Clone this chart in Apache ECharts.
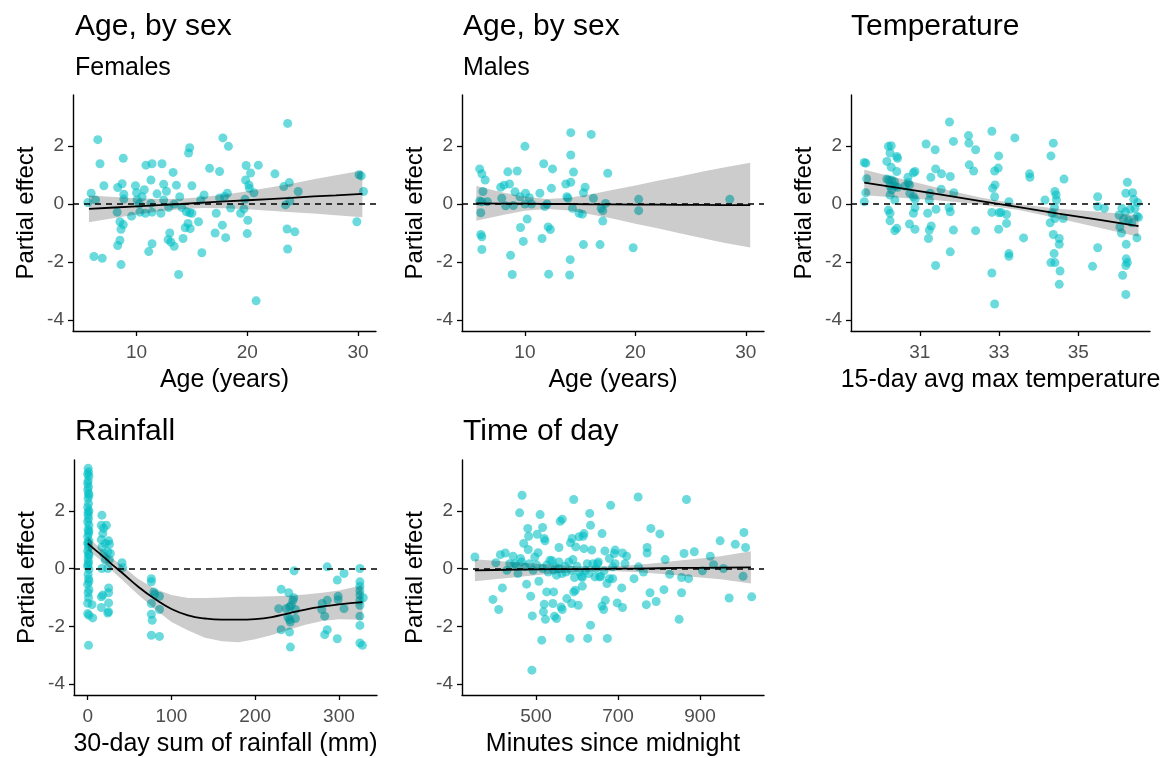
<!DOCTYPE html>
<html>
<head>
<meta charset="utf-8">
<script src="https://cdn.jsdelivr.net/npm/echarts@6/dist/echarts.min.js"></script>
<style>
html,body{margin:0;padding:0;background:#fff;}
#main{width:1171px;height:758px;}
</style>
</head>
<body>
<div id="main"></div>
<script>
// partial residuals [x, effect]
var femalePts = [[5.6,0.05],[5.9,0.37],[6.5,2.22],[6.15,-1.81],[6.3,0.14],[6.7,1.39],[6.9,-1.87],[7.05,0.63],
  [8.3,0.57],[8.25,-0.28],[8.3,-1.43],[8.5,-1.25],[8.5,-0.61],[8.6,-0.87],[8.6,-2.09],[8.7,0.70],[8.8,1.58],[8.85,0.34],[8.8,-0.71],[8.85,0.17],
  [9.55,-0.42],[9.9,0.63],[10.0,0.39],[10.05,0.14],[10.25,0.0],[10.3,-0.28],[10.5,0.25],[10.7,0.49],[10.8,-0.32],[10.85,1.34],
  [11.1,-1.64],[11.3,0.83],[11.4,-1.37],[11.4,1.39],[11.3,0.02],[11.85,0.35],[11.4,-0.28],
  [12.3,1.39],[12.2,-0.32],[12.45,0.68],[12.45,0.14],[12.7,0.44],[12.85,-1.23],[13.0,-1.0],[12.9,-0.12],[13.1,-1.31],[13.3,1.09],[13.4,0.0],[13.4,-1.46],[13.6,0.65],[13.8,-2.43],[13.9,0.25],
  [14.1,-0.12],[14.2,-1.19],[14.4,-0.82],[14.5,-0.27],[14.65,-0.67],[14.7,1.76],[14.8,1.94],[14.8,-0.30],[14.85,-0.85],[15.0,0.63],[15.0,-0.32],
  [15.6,-0.61],[15.8,0.14],[15.9,-1.68],[16.1,0.31],[16.6,1.23],[17.1,-1.0],[17.2,-0.32],[17.5,1.12],[17.5,0.21],[17.75,-0.73],[17.8,2.28],[17.95,0.26],[18.05,-1.16],[18.2,0.37],[18.3,1.99],[18.5,-0.14],
  [19.4,-0.32],[19.7,-0.17],[19.8,0.16],[19.85,0.83],[19.9,1.33],[20.0,-1.02],[20.05,-0.56],[20.15,0.66],[20.3,1.07],[20.2,0.54],[20.6,0.39],[20.8,-3.34],[21.0,1.34],
  [22.5,1.04],[23.3,0.6],[23.45,-0.03],[23.65,2.78],[23.6,-0.86],[23.65,-1.55],[23.8,0.74],[23.85,0.10],[24.3,-0.96],[24.6,0.43],
  [29.9,-0.61],[30.1,1.01],[30.3,0.97],[30.5,0.43]];

var malePts = [[5.9,1.21],[6.1,1.04],[6.4,0.83],[6.2,0.43],[6.1,0.08],[6.0,-0.30],[5.9,0.10],[6.6,0.08],[6.0,-1.05],[6.1,-1.13],[6.1,-1.57],
  [7.8,0.58],[8.1,0.65],[7.9,0.2],[8.25,-0.06],[8.45,1.11],[8.6,0.69],[8.95,-0.05],[9.1,0.42],[9.3,1.14],[9.55,0.25],[9.6,-0.81],[9.85,-1.29],[10.0,1.99],[10.05,0.37],[10.2,-0.52],[10.0,0.0],[10.4,0.22],[10.6,0.0],[8.7,-1.77],[8.85,-2.43],
  [11.35,0.37],[11.55,-1.19],[11.7,1.39],[11.8,-0.09],[12.0,0.0],[12.1,-0.79],[12.3,-0.88],[12.4,0.54],[12.15,-2.42],[12.5,1.21],
  [13.7,0.69],[13.8,0.25],[13.9,0.2],[14.15,0.75],[14.15,1.69],[14.15,2.46],[14.3,-0.15],[14.4,1.10],[14.1,-1.92],[14.05,-2.45],
  [14.9,-0.32],[15.2,-0.35],[15.3,0.39],[15.45,0.58],[15.3,-1.40],[16.0,2.40],[16.2,0.2],[16.8,-1.40],[16.9,-0.15],[17.05,-0.23],[17.05,-0.59],[17.3,0.02],[17.5,1.06],
  [20.3,0.16],[20.3,-0.23],[19.8,-1.51],[28.55,0.16]];

var tempPts = [[29.6,1.43],[29.64,1.41],[29.66,0.87],[29.64,0.39],[29.6,0.08],
  [30.17,1.47],[30.21,1.99],[30.28,2.01],[30.25,1.76],[30.42,1.64],[30.44,1.58],[30.28,1.27],[30.42,1.12],[30.17,0.86],[30.22,0.83],[30.29,0.83],[30.36,0.77],[30.25,0.62],[30.37,0.62],[30.44,0.58],[30.29,0.49],[30.25,0.31],[30.37,0.14],[30.21,-0.21],[30.25,-0.32],[30.25,-0.58],[30.37,-0.92],[30.42,-0.84],
  [30.63,0.62],[30.7,0.92],[30.71,0.74],[30.74,0.66],[30.84,1.08],[30.88,1.12],[30.75,0.37],[30.84,0.25],[30.88,0.16],[30.88,-0.13],[30.84,-0.32],[30.74,-0.69],[30.88,-0.87],
  [31.16,2.07],[31.39,1.87],[31.4,1.21],[31.28,0.92],[31.2,-0.32],[31.26,0.37],[31.24,0.14],[31.29,-0.76],[31.24,-0.90],[31.22,-1.19],[31.41,-0.18],[31.4,-2.12],[31.55,1.04],[31.54,0.51],
  [31.75,2.83],[31.77,0.95],[31.74,-0.12],[31.77,-0.27],[31.85,2.16],[31.86,0.39],[31.85,-0.90],[31.77,-1.65],
  [32.23,2.36],[32.24,2.10],[32.41,1.87],[32.25,1.35],[32.36,1.14],[32.41,-0.92],
  [32.82,2.51],[32.89,1.14],[32.9,0.66],[32.84,0.54],[32.89,0.25],[32.82,-0.29],[32.82,-2.38],[32.89,-3.45],[32.99,1.66],[32.98,1.24],[33.0,-0.30],[32.99,-0.87],
  [33.4,2.28],[33.25,0.08],[33.19,-0.36],[33.19,-0.67],[33.05,-0.29],[33.25,-1.71],[33.25,-1.80],[33.62,-1.17],[33.77,1.04],[33.78,0.92],
  [34.16,0.14],[34.31,1.66],[34.37,2.10],[34.41,0.43],[34.44,0.31],[34.45,0.14],[34.4,-0.12],[34.34,-0.32],[34.29,-0.65],[34.41,-0.50],[34.62,-0.50],[34.64,0.86],[34.37,-1.05],[34.52,-1.19],[34.52,-1.39],[34.39,-1.71],[34.31,-2.02],[34.41,-2.02],[34.54,-2.31],[34.52,-2.77],
  [35.49,0.25],[35.49,-0.09],[35.66,-0.15],[35.49,-1.51],[35.36,-2.15],
  [36.24,0.75],[36.2,0.37],[36.37,0.39],[36.4,0.16],[36.31,-0.18],[36.19,-0.27],[36.1,-0.15],[36.03,-0.38],[36.14,-0.53],[36.05,-0.79],[36.09,-1.0],[36.43,-0.15],[36.48,-0.42],[36.5,0.05],[36.48,-1.17],[36.21,-1.39],[36.21,-1.89],[36.2,-2.12],[36.24,-2.02],[36.12,-2.46],[36.2,-3.12],[36.27,-0.55],[36.35,-0.65],[36.52,-0.46]];

var rainPts = [[0.5,3.47],[1,3.35],[0,3.27],[1.5,3.20],[0.5,3.04],[0,2.95],[1,2.83],[0,2.72],[1,2.6],[1.5,2.54],[0.5,2.43],[1,2.25],[0,2.12],[1.5,2.0],[0.5,1.95],[0.5,1.85],[1,1.73],[0,1.62],[1.5,1.50],[0.5,1.35],[1.5,1.3],[1,1.21],[0,1.10],[1.5,0.96],[0,0.9],[0.5,0.84],[1,0.73],[0,0.61],[1,0.5],[1.5,0.46],[0.5,0.35],[1,0.23],[0.5,0.15],[0,0.08],[1.5,-0.03],[0.5,-0.2],[1,-0.35],[1.5,-0.45],[0,-0.54],[1.5,-0.73],[0.5,-0.84],[1,-1.01],[0,-1.2],[0,-1.56],[1.5,-1.62],[1,-2.66],[5.2,-1.25],[6,-1.71],
  [17,1.85],[16.3,1.50],[22.3,1.50],[19,1.39],[18,1.21],[16.3,1.0],[25,0.96],[26,0.84],[21,0.87],[17,0.75],[24,0.58],[27,0.52],[19,0.52],[21,0.29],[17,0.0],[24,0.0],[26,0.31],[25,-0.67],[25,-0.84],[16.3,-0.98],[18,-0.92],[25,-1.19],[16.3,-1.35],[25,-1.50],[24,-1.54],[41,0.20],[41.8,0.03],
  [76,-0.35],[76,-0.46],[79,-0.81],[80,-0.89],[85.7,-0.96],[76,-1.21],[85.7,-1.42],[76,-1.58],[77,-1.79],[76,-2.31],[85.7,-2.35],
  [246.4,-0.08],[231,-0.72],[240,-0.84],[245,-1.10],[246,-1.01],[228,-1.39],[237,-1.39],[241,-1.33],[243,-1.27],[248,-1.42],[239,-1.68],[241,-1.77],[242,-1.85],[248,-1.73],[231,-2.12],[241,-2.20],[242,-2.72],
  [280,-1.21],[279.5,-1.42],[283,-1.65],[286,-1.10],[286,-2.12],[283,-2.29],[286,0.06],[298,-0.40],[299,-0.96],[299,-1.08],[306,-0.17],[306,-1.39],[298,-2.43],
  [325,0.0],[325,-0.46],[325,-0.61],[325,-0.77],[325,-0.92],[325,-1.10],[325,-1.27],[325,-1.65],[325,-1.97],[329,-1.01],[325,-2.58],[328,-2.66]];

var timePts = [[351,0.40],[395,-1.07],[409,-1.42],[418,-0.67],[413,0.48],[425,0.54],[402,0.20],[429,-0.06],[444,0.43],[448,0.17],[456,-0.17],[460,1.93],[466,2.54],[462,0.35],[470,0.87],[477,-0.54],[481,0.66],[480,1.39],[487,-0.96],[491,-1.64],[490,-3.52],[482,1.12],[484,0.17],[497,0.40],[505,0.55],[503,1.19],[507,-0.44],[510,1.87],[516,1.42],[520,1.04],[522,0.96],[520,-1.24],[518,-1.50],[514,-2.48],[523,-1.76],[526,-0.81],[530,-0.12],[534,0.29],[541,-1.21],[543,-0.81],[545,-1.65],[550,-1.73],[547,0.06],[550,-0.23],[556,0.23],[556,0.73],[559,1.64],[564,1.71],[561,-1.33],[564,-1.42],[571,0.08],[573,-0.12],[575,-1.04],[583,-2.42],[587,-1.21],[590,0.31],[592,2.39],[584,0.89],[588,1.04],[597,0.75],[592,-0.81],[596,-0.75],[603,-1.27],[600,0.08],[605,1.10],[615,1.12],[617,1.21],[611,-0.27],[613,-0.61],[617,0.69],[621,-0.06],[626,-2.42],[633,-1.96],[631,1.91],[633,1.50],[636,0.64],[639,0.17],[644,-0.29],[650,0.17],[655,-0.29],[661,1.21],[661,-1.30],[665,-1.42],[669,-1.10],[674,-2.42],[668,0.61],[673,-0.52],[679,0.35],[682,2.19],[687,-0.35],[691,0.52],
  [436,0.17],[452,0.08],[465,0.23],[473,0.06],[493,-0.06],[502,0.12],[516,0.0],[526,0.12],[539,0.27],[543,-0.06],[555,0.0],[563,-0.17],[580,0.23],[586,-0.06],[594,-0.31],[606,-0.12],[613,-0.31],[625,0.17],[629,-0.17],[646,0.0],[652,0.23],[658,-0.27],[666,-0.08],[679,-0.35],[687,0.06],[693,0.17],
  [693,0.64],[711,0.54],[721,0.43],[717,0.17],[698,-1.19],[711,-1.35],[709,-0.67],[739,-0.35],[749,2.48],[750,0.06],[762,-0.12],[771,0.73],[771,0.54],[769,-1.25],[778,-0.84],[780,1.39],[793,-1.14],[802,1.20],[812,-0.73],[815,0.31],[826,-0.20],[849,-1.76],[855,-0.84],[855,-0.31],[861,0.52],[867,2.39],[872,-0.35],[886,0.58],[906,-0.08],[925,0.43],[933,0.13],[949,0.96],[957,0.0],[971,-1.02],[986,0.84],[1005,-0.27],[1007,1.25],[1011,0.73],[1026,-0.98]];

// fitted smooths with confidence bands
var femaleFitX = [5.7, 8, 10, 12, 14, 16, 18, 20, 22, 24, 26, 28, 30.4];
var femaleFit  = [-0.17, -0.12, -0.08, -0.04, 0.0, 0.05, 0.09, 0.13, 0.17, 0.21, 0.26, 0.30, 0.35];
var femaleLo   = [-0.63, -0.48, -0.36, -0.25, -0.18, -0.14, -0.15, -0.18, -0.23, -0.28, -0.33, -0.39, -0.46];
var femaleHi   = [0.29, 0.24, 0.20, 0.17, 0.18, 0.24, 0.33, 0.44, 0.57, 0.70, 0.85, 0.99, 1.16];

var maleFitX = [5.6, 8, 10, 12, 14, 16, 18, 20, 22, 24, 26, 28, 30.4];
var maleFit  = [0.02, 0.01, 0.01, 0.0, 0.0, -0.01, -0.01, -0.02, -0.02, -0.03, -0.03, -0.04, -0.04];
var maleLo   = [-0.58, -0.38, -0.23, -0.17, -0.22, -0.36, -0.51, -0.68, -0.84, -1.01, -1.17, -1.34, -1.50];
var maleHi   = [0.62, 0.40, 0.25, 0.17, 0.22, 0.34, 0.49, 0.64, 0.80, 0.95, 1.11, 1.26, 1.42];

var tempFitX = [29.6, 30.5, 31.5, 32.5, 33.5, 34.5, 35.5, 36.52];
var tempFit  = [0.74, 0.55, 0.33, 0.11, -0.11, -0.33, -0.54, -0.76];
var tempLo   = [0.30, 0.22, 0.12, -0.01, -0.21, -0.50, -0.81, -1.13];
var tempHi   = [1.18, 0.88, 0.54, 0.23, -0.01, -0.16, -0.27, -0.39];

var rainFitX = [0, 10, 20, 30, 40, 60, 80, 100, 120, 140, 160, 180, 200, 220, 240, 260, 280, 300, 328];
var rainFit  = [0.87, 0.62, 0.38, 0.12, -0.12, -0.62, -1.05, -1.40, -1.62, -1.73, -1.77, -1.77, -1.75, -1.68, -1.55, -1.42, -1.32, -1.24, -1.16];
var rainLo   = [0.64, 0.42, 0.18, -0.10, -0.36, -0.90, -1.40, -1.85, -2.15, -2.40, -2.52, -2.55, -2.45, -2.30, -2.12, -1.95, -1.82, -1.76, -1.77];
var rainHi   = [1.10, 0.83, 0.58, 0.34, 0.12, -0.35, -0.70, -0.92, -1.02, -1.02, -1.0, -0.98, -0.98, -0.96, -0.94, -0.90, -0.84, -0.76, -0.58];

var timeFitX = [351, 400, 450, 500, 550, 600, 650, 700, 750, 800, 850, 900, 950, 1024];
var timeFit  = [-0.06, -0.05, -0.04, -0.03, -0.02, -0.02, -0.01, 0.0, 0.0, 0.01, 0.02, 0.02, 0.03, 0.04];
var timeLo   = [-0.44, -0.37, -0.30, -0.23, -0.16, -0.12, -0.09, -0.09, -0.13, -0.18, -0.24, -0.31, -0.37, -0.52];
var timeHi   = [0.32, 0.27, 0.22, 0.17, 0.12, 0.08, 0.07, 0.09, 0.13, 0.20, 0.28, 0.35, 0.43, 0.60];

var yTicks = [-4, -2, 0, 2];

var chart = echarts.init(document.getElementById('main'));
var FONT = '"Liberation Sans", Arial, Helvetica, sans-serif';

var panels = [
  {grid: {left: 73, top: 95, width: 303, height: 236}, xMin: 4.26, xMax: 31.63, xTicks: [10, 20, 30], xName: 'Age (years)',
   pts: femalePts, fx: femaleFitX, fy: femaleFit, lo: femaleLo, hi: femaleHi},
  {grid: {left: 462, top: 95, width: 302, height: 236}, xMin: 4.3, xMax: 31.65, xTicks: [10, 20, 30], xName: 'Age (years)',
   pts: malePts, fx: maleFitX, fy: maleFit, lo: maleLo, hi: maleHi},
  {grid: {left: 851, top: 95, width: 299, height: 236}, xMin: 29.265, xMax: 36.81, xTicks: [31, 33, 35], xName: '15-day avg max temperature',
   pts: tempPts, fx: tempFitX, fy: tempFit, lo: tempLo, hi: tempHi},
  {grid: {left: 74, top: 460, width: 303, height: 237}, xMin: -16.35, xMax: 345.4, xTicks: [0, 100, 200, 300], xName: '30-day sum of rainfall (mm)',
   pts: rainPts, fx: rainFitX, fy: rainFit, lo: rainLo, hi: rainHi, smooth: true},
  {grid: {left: 462, top: 460, width: 302, height: 237}, xMin: 319.5, xMax: 1056, xTicks: [500, 700, 900], xName: 'Minutes since midnight',
   pts: timePts, fx: timeFitX, fy: timeFit, lo: timeLo, hi: timeHi}
];

var axisLine = {onZero: false, lineStyle: {color: '#000', width: 1.4}};
var tickStyle = {color: '#000', width: 1.3};

var grids = [], xAxes = [], yAxes = [], series = [];

function bandSeries(p, i) {
  return {
    type: 'custom', xAxisIndex: i, yAxisIndex: i, silent: true, z: 3,
    data: p.fx.map(function (x, k) { return [x, p.lo[k], p.hi[k]]; }),
    encode: {x: 0, y: [1, 2]},
    renderItem: function (params, api) {
      if (params.dataIndex !== 0) return null;
      var up = [], dn = [];
      for (var k = 0; k < p.fx.length; k++) {
        up.push(api.coord([p.fx[k], p.hi[k]]));
        dn.unshift(api.coord([p.fx[k], p.lo[k]]));
      }
      return {type: 'polygon', shape: {points: up.concat(dn)}, style: {fill: 'rgba(0,0,0,0.2)'}};
    }
  };
}

panels.forEach(function (p, i) {
  grids.push(p.grid);
  xAxes.push({
    gridIndex: i, type: 'value', min: p.xMin, max: p.xMax,
    axisLine: axisLine,
    axisTick: {customValues: p.xTicks, length: 5, lineStyle: tickStyle},
    axisLabel: {customValues: p.xTicks, color: '#4d4d4d', fontSize: 19, fontFamily: FONT, margin: 12},
    splitLine: {show: false},
    name: p.xName, nameLocation: 'middle', nameGap: 37,
    nameTextStyle: {color: '#000', fontSize: 25, fontFamily: FONT}
  });
  yAxes.push({
    gridIndex: i, type: 'value', min: -4.38, max: 3.76,
    axisLine: axisLine,
    axisTick: {customValues: yTicks, length: 5, lineStyle: tickStyle},
    axisLabel: {customValues: yTicks, color: '#4d4d4d', fontSize: 19, fontFamily: FONT, margin: 9},
    splitLine: {show: false},
    name: 'Partial effect', nameLocation: 'middle', nameGap: 35,
    nameTextStyle: {color: '#000', fontSize: 24, fontFamily: FONT}
  });
  series.push({
    type: 'scatter', xAxisIndex: i, yAxisIndex: i, data: p.pts, symbolSize: 9, z: 2,
    itemStyle: {color: '#00BFC4', opacity: 0.58},
    markLine: {
      silent: true, symbol: 'none', label: {show: false},
      lineStyle: {color: '#000', type: [6, 5], width: 1.6},
      data: [{yAxis: 0}]
    }
  });
  series.push(bandSeries(p, i));
  series.push({
    type: 'line', xAxisIndex: i, yAxisIndex: i, z: 4, showSymbol: false, smooth: !!p.smooth,
    data: p.fx.map(function (x, k) { return [x, p.fy[k]]; }),
    lineStyle: {color: '#000', width: 1.8}
  });
});

var tStyle = {fontSize: 30, fontWeight: 'normal', color: '#000', fontFamily: FONT};
var sStyle = {fontSize: 25, fontWeight: 'normal', color: '#000', fontFamily: FONT};

var option = {
  backgroundColor: '#fff',
  animation: false,
  title: [
    {text: 'Age, by sex', left: 75, top: 12, padding: 0, textStyle: tStyle},
    {text: 'Females', left: 75, top: 56, padding: 0, textStyle: sStyle},
    {text: 'Age, by sex', left: 463, top: 12, padding: 0, textStyle: tStyle},
    {text: 'Males', left: 463, top: 56, padding: 0, textStyle: sStyle},
    {text: 'Temperature', left: 851, top: 12, padding: 0, textStyle: tStyle},
    {text: 'Rainfall', left: 75, top: 417, padding: 0, textStyle: tStyle},
    {text: 'Time of day', left: 463, top: 417, padding: 0, textStyle: tStyle}
  ],
  grid: grids,
  xAxis: xAxes,
  yAxis: yAxes,
  series: series
};

chart.setOption(option);
</script>
</body>
</html>
